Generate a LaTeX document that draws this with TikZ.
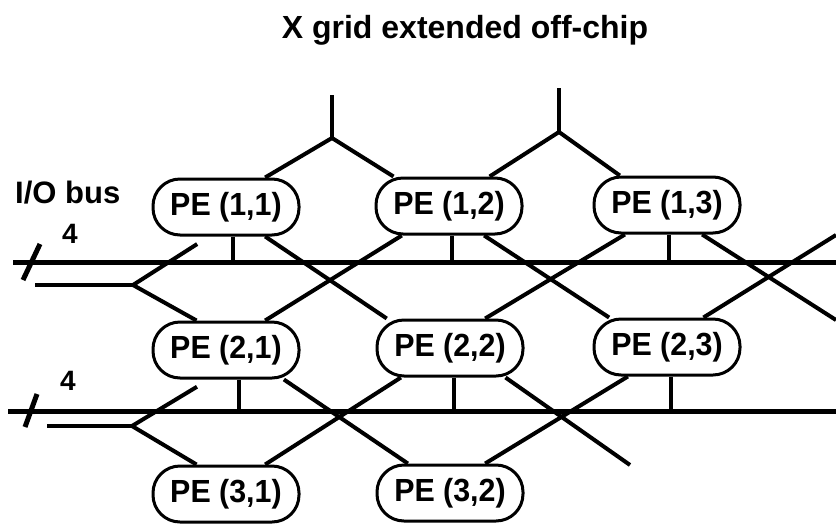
\documentclass[tikz,border=0pt]{standalone}
\usepackage{fontspec}
\setmainfont{Liberation Sans}
\newfontfamily\narrowsans[FakeStretch=0.95]{Liberation Sans}
\begin{document}
\begin{tikzpicture}[
  x=1pt, y=-1pt,
  pe/.style={draw, line width=3pt, rounded corners=27pt,
             minimum width=146pt, minimum height=56pt, inner sep=0pt,
             font=\narrowsans\fontsize{32}{38}\selectfont\bfseries},
  txt/.style={inner sep=0pt, font=\fontsize{31}{37}\selectfont\bfseries},
  link/.style={line width=4pt},
  bus/.style={line width=5pt}
]
\useasboundingbox (0,0) rectangle (836,523);

\node[txt, anchor=base, font=\fontsize{32}{38}\selectfont\bfseries] (title) at (465,38) {X grid extended off-chip};
\node[txt, anchor=base west] (io) at (15,203) {I/O bus};
\node[txt, anchor=base, font=\fontsize{28}{34}\selectfont\bfseries] (w1lbl) at (70,243) {4};
\node[txt, anchor=base, font=\fontsize{28}{34}\selectfont\bfseries] (w2lbl) at (68,390) {4};

\node[pe] (p11) at (226,207) {PE (1,1)};
\node[pe] (p12) at (449,206) {PE (1,2)};
\node[pe] (p13) at (667,205) {PE (1,3)};
\node[pe] (p21) at (226,350) {PE (2,1)};
\node[pe] (p22) at (450,348) {PE (2,2)};
\node[pe] (p23) at (667,347) {PE (2,3)};
\node[pe] (p31) at (226,494) {PE (3,1)};
\node[pe] (p32) at (450,493) {PE (3,2)};

\coordinate (s1) at (332,95);  \coordinate (b1) at (332,138);
\coordinate (s2) at (559,88);  \coordinate (b2) at (559,132);
\coordinate (bus1w) at (13,262); \coordinate (bus1e) at (836,262);
\coordinate (bus2w) at (8,411);  \coordinate (bus2e) at (836,411);
\coordinate (w1) at (35,285);  \coordinate (f1) at (133,285);
\coordinate (w2) at (47,426);  \coordinate (f2) at (132,426);
\coordinate (e1) at (836,320); \coordinate (e2) at (836,235);
\coordinate (e3) at (630,465);

\draw[link] (s1) -- (b1);
\draw[link] (b1) -- (p11.37);
\draw[link] (b1) -- (p12.152);
\draw[link] (s2) -- (b2);
\draw[link] (b2) -- (p12.36);
\draw[link] (b2) -- (p13.148);

\draw[bus] (bus1w) -- (bus1e);
\draw[bus] (bus2w) -- (bus2e);
\draw[bus] (23,280) -- (40,244);
\draw[bus] (25,427) -- (37,394);

\foreach \n/\a in {p11/-76, p12/-84, p13/-87}
  \draw[link] (\n.\a) -- (\n.\a |- bus1w);
\foreach \n/\a in {p21/-67, p22/-82, p23/-82}
  \draw[link] (\n.\a) -- (\n.\a |- bus2w);

\draw[link] (w1) -- (f1);
\draw[link] (f1) -- (p21.135);
\draw[link, shorten >=14pt] (f1) -- (p11.-120);
\draw[link] (p11.-37) -- (p22.155);
\draw[link] (p12.-148) -- (p21.37);
\draw[link] (p12.-40) -- (p23.153);
\draw[link] (p13.-145) -- (p22.40);
\draw[link] (p13.-40) -- (e1);
\draw[link] (e2) -- (p23.39);

\draw[link] (w2) -- (f2);
\draw[link] (f2) -- (p31.135);
\draw[link, shorten >=14pt] (f2) -- (p21.-120);
\draw[link] (p21.-27) -- (p32.145);
\draw[link] (p22.-149) -- (p31.37);
\draw[link] (p22.-28) -- (e3);
\draw[link] (p23.-143) -- (p32.40);
\end{tikzpicture}
\end{document}
